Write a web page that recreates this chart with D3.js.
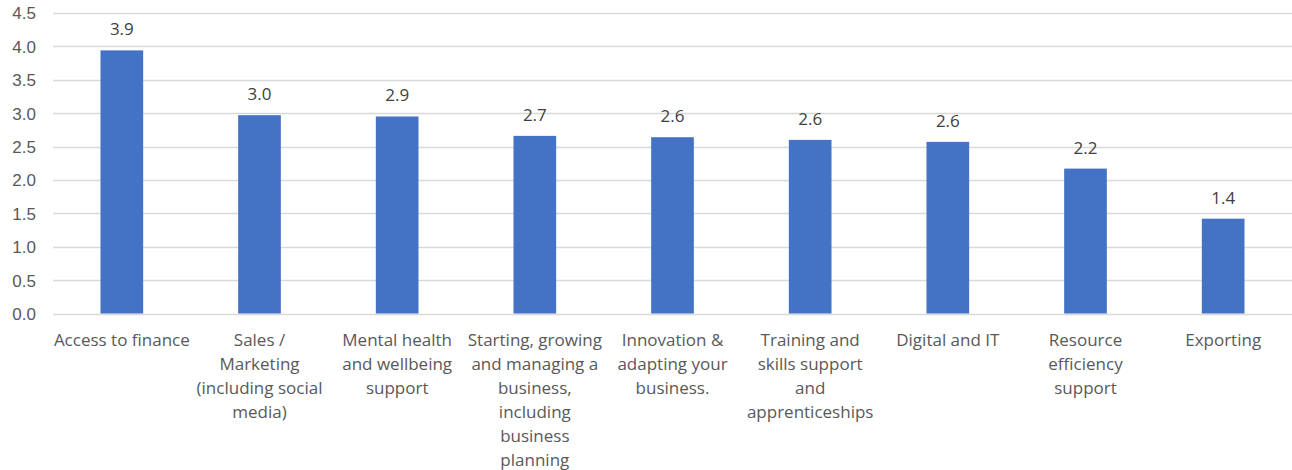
<!DOCTYPE html>
<html>
<head>
<meta charset="utf-8">
<script src="https://cdn.jsdelivr.net/npm/d3@7"></script>
<style>
  html, body { margin: 0; padding: 0; background: #ffffff; }
  svg { display: block; font-family: "Open Sans", "Noto Sans", sans-serif; }
</style>
</head>
<body>
<svg id="chart" width="1292" height="470"></svg>
<script>
// ---- data ----
const categories = [
  "Access to finance",
  "Sales / Marketing (including social media)",
  "Mental health and wellbeing support",
  "Starting, growing and managing a business, including business planning",
  "Innovation & adapting your business.",
  "Training and skills support and apprenticeships",
  "Digital and IT",
  "Resource efficiency support",
  "Exporting"
];
const categoryLines = [
  ["Access to finance"],
  ["Sales /", "Marketing", "(including social", "media)"],
  ["Mental health", "and wellbeing", "support"],
  ["Starting, growing", "and managing a", "business,", "including", "business", "planning"],
  ["Innovation &", "adapting your", "business."],
  ["Training and", "skills support", "and", "apprenticeships"],
  ["Digital and IT"],
  ["Resource", "efficiency", "support"],
  ["Exporting"]
];
const values = [3.94, 2.97, 2.95, 2.66, 2.64, 2.60, 2.57, 2.17, 1.42];
const valueLabels = ["3.9", "3.0", "2.9", "2.7", "2.6", "2.6", "2.6", "2.2", "1.4"];
const yTicks = [0, 0.5, 1.0, 1.5, 2.0, 2.5, 3.0, 3.5, 4.0, 4.5];

// ---- layout ----
const svg = d3.select("#chart");
const margin = { left: 53, right: 0 };
const W = 1292;

const x = d3.scaleBand()
  .domain(categories)
  .range([margin.left, W - margin.right])
  .paddingInner(0.69)
  .paddingOuter(0.345);

const y = d3.scaleLinear()
  .domain([0, 4.5])
  .range([313.5, 13]);

// gridlines
svg.append("g")
  .selectAll("line")
  .data(yTicks)
  .join("line")
  .attr("x1", margin.left)
  .attr("x2", W)
  .attr("y1", d => Math.round(y(d)) + 0.5)
  .attr("y2", d => Math.round(y(d)) + 0.5)
  .attr("stroke", "#d9d9d9")
  .attr("stroke-width", 1.5);

// y axis labels
const yAxis = d3.axisLeft(y).tickValues(yTicks).tickFormat(d3.format(".1f")).tickSize(0).tickPadding(0);
const yg = svg.append("g").attr("transform", "translate(36,0)").call(yAxis);
yg.select(".domain").remove();
yg.selectAll("text")
  .attr("fill", "#595959")
  .style("font-size", "17px")
  .attr("dy", "0.35em");

// bars
svg.append("g")
  .selectAll("rect")
  .data(values)
  .join("rect")
  .attr("x", (d, i) => x(categories[i]))
  .attr("width", x.bandwidth())
  .attr("y", d => y(d))
  .attr("height", d => y(0) - y(d))
  .attr("fill", "#4472c4");

// value labels
svg.append("g")
  .selectAll("text")
  .data(values)
  .join("text")
  .attr("x", (d, i) => x(categories[i]) + x.bandwidth() / 2)
  .attr("y", d => y(d) - 21)
  .attr("dy", "0.35em")
  .attr("text-anchor", "middle")
  .attr("fill", "#404040")
  .style("font-size", "17px")
  .text((d, i) => valueLabels[i]);

// x category labels
const xg = svg.append("g");
categories.forEach((c, i) => {
  const t = xg.append("text")
    .attr("text-anchor", "middle")
    .attr("fill", "#595959")
    .style("font-size", "17px");
  categoryLines[i].forEach((ln, j) => {
    t.append("tspan")
      .attr("x", x(c) + x.bandwidth() / 2)
      .attr("y", 340 + j * 24)
      .attr("dy", "0.35em")
      .text(ln);
  });
});
</script>
</body>
</html>
